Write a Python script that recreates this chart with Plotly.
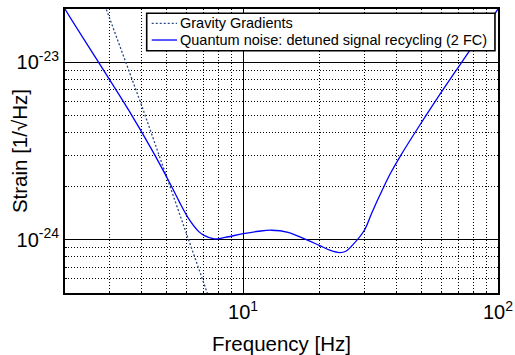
import plotly.graph_objects as go

# Quantum noise: detuned signal recycling (2 FC)
qn_freq = [1.9, 2.0, 2.71, 3.56, 4.38, 5.1, 5.6, 6.12, 6.7, 7.02, 7.69, 8.5, 10.0, 11.5, 12.9, 15.0,
           17.7, 19.9, 22.0, 23.9, 25.3, 26.8, 29.9, 32.0, 35.3, 38.0, 41.5, 48.1, 57.4, 72.0, 100.0]
qn_strain = [2.3e-23, 2.0e-23, 1.0e-23, 5.36e-24, 3.22e-24, 2.15e-24, 1.65e-24, 1.31e-24, 1.11e-24,
             1.057e-24, 1.01e-24, 1.03e-24, 1.08e-24, 1.115e-24, 1.13e-24, 1.1e-24,
             1.0e-24, 9.28e-25, 8.7e-25, 8.45e-25, 8.6e-25, 9.28e-25, 1.13e-24, 1.42e-24, 1.93e-24,
             2.39e-24, 2.98e-24, 4.18e-24, 6.18e-24, 1.0e-23, 2.0e-23]

# Gravity gradients
gg_freq = [2.8, 2.9, 4.0, 5.1, 7.2, 7.5]
gg_strain = [2.3e-23, 2.0e-23, 5.7e-24, 2.1e-24, 5.0e-25, 4.3e-25]

series_names = ["Gravity Gradients", "Quantum noise: detuned signal recycling (2 FC)"]
series_colors = ["#2e4a86", "#0000ff"]

x_ticks = [10, 100]
x_ticklabels = ["10<sup>1</sup>", "10<sup>2</sup>"]
y_ticks = [1e-24, 1e-23]
y_ticklabels = ["10<sup>-24</sup>", "10<sup>-23</sup>"]
x_minor = [3, 4, 5, 6, 7, 8, 9, 20, 30, 40, 50, 60, 70, 80, 90]
y_minor = [6e-25, 7e-25, 8e-25, 9e-25, 2e-24, 3e-24, 4e-24, 5e-24, 6e-24, 7e-24, 8e-24, 9e-24]

FONT = "Liberation Sans, Arial, Helvetica, sans-serif"
GG_DASH = "2px,2px"

fig = go.Figure()
fig.add_trace(go.Scatter(x=gg_freq, y=gg_strain, mode="lines", name=series_names[0], showlegend=False,
                         line=dict(color=series_colors[0], width=1.3, dash=GG_DASH)))
fig.add_trace(go.Scatter(x=qn_freq, y=qn_strain, mode="lines", line_shape="spline",
                         name=series_names[1], showlegend=False,
                         line=dict(color=series_colors[1], width=1.3)))

axis_common = dict(
    showline=True, linecolor="black", linewidth=2, mirror=True,
    showgrid=True, gridcolor="black", gridwidth=1,
    ticks="inside", ticklen=4, tickcolor="black",
    zeroline=False, automargin=False,
    tickfont=dict(family=FONT, size=20, color="black"),
)

fig.update_xaxes(type="log", range=[0.30103, 2.0],
                 tickvals=x_ticks, ticktext=x_ticklabels,
                 minor=dict(tickvals=x_minor, showgrid=True, griddash="1px,2px",
                            gridcolor="black", gridwidth=1, ticks="inside", ticklen=2, tickcolor="black"),
                 **axis_common)
fig.update_yaxes(type="log", range=[-24.30103, -22.69897],
                 tickvals=y_ticks, ticktext=y_ticklabels,
                 minor=dict(tickvals=y_minor, showgrid=True, griddash="1px,2px",
                            gridcolor="black", gridwidth=1, ticks="inside", ticklen=2, tickcolor="black"),
                 **axis_common)

# Legend (box, samples, labels) placed in paper coordinates
leg_x0, leg_x1, leg_y0, leg_y1 = 0.1887, 0.993, 0.853, 0.985
row_y = [0.9496, 0.8908]
samp_x0, samp_x1, text_x = 0.2003, 0.2587, 0.2610
shapes = [dict(type="rect", xref="paper", yref="paper", x0=leg_x0, x1=leg_x1, y0=leg_y0, y1=leg_y1,
               line=dict(color="black", width=1.6), fillcolor="white", layer="above")]
annotations = []
dashes = [GG_DASH, "solid"]
for i in range(2):
    shapes.append(dict(type="line", xref="paper", yref="paper", x0=samp_x0, x1=samp_x1,
                       y0=row_y[i], y1=row_y[i], layer="above",
                       line=dict(color=series_colors[i], width=1.3, dash=dashes[i])))
    annotations.append(dict(text=series_names[i], xref="paper", yref="paper", x=text_x, y=row_y[i],
                            xanchor="left", yanchor="middle", showarrow=False,
                            font=dict(family=FONT, size=14.5, color="black")))

# Axis titles
annotations.append(dict(text="Frequency [Hz]", xref="paper", yref="paper", x=0.5, y=-0.178,
                        xanchor="center", yanchor="middle", showarrow=False,
                        font=dict(family=FONT, size=20.5, color="black")))
annotations.append(dict(text="Strain [1/√Hz]", xref="paper", yref="paper", x=-0.106, y=0.5,
                        xanchor="center", yanchor="middle", showarrow=False, textangle=-90,
                        font=dict(family=FONT, size=20.5, color="black")))

fig.update_layout(
    width=515, height=355,
    margin=dict(l=65, r=17, t=9, b=62),
    plot_bgcolor="white", paper_bgcolor="white",
    font=dict(family=FONT, color="black"),
    showlegend=False,
    shapes=shapes,
    annotations=annotations,
)

fig.write_html("out.html")
